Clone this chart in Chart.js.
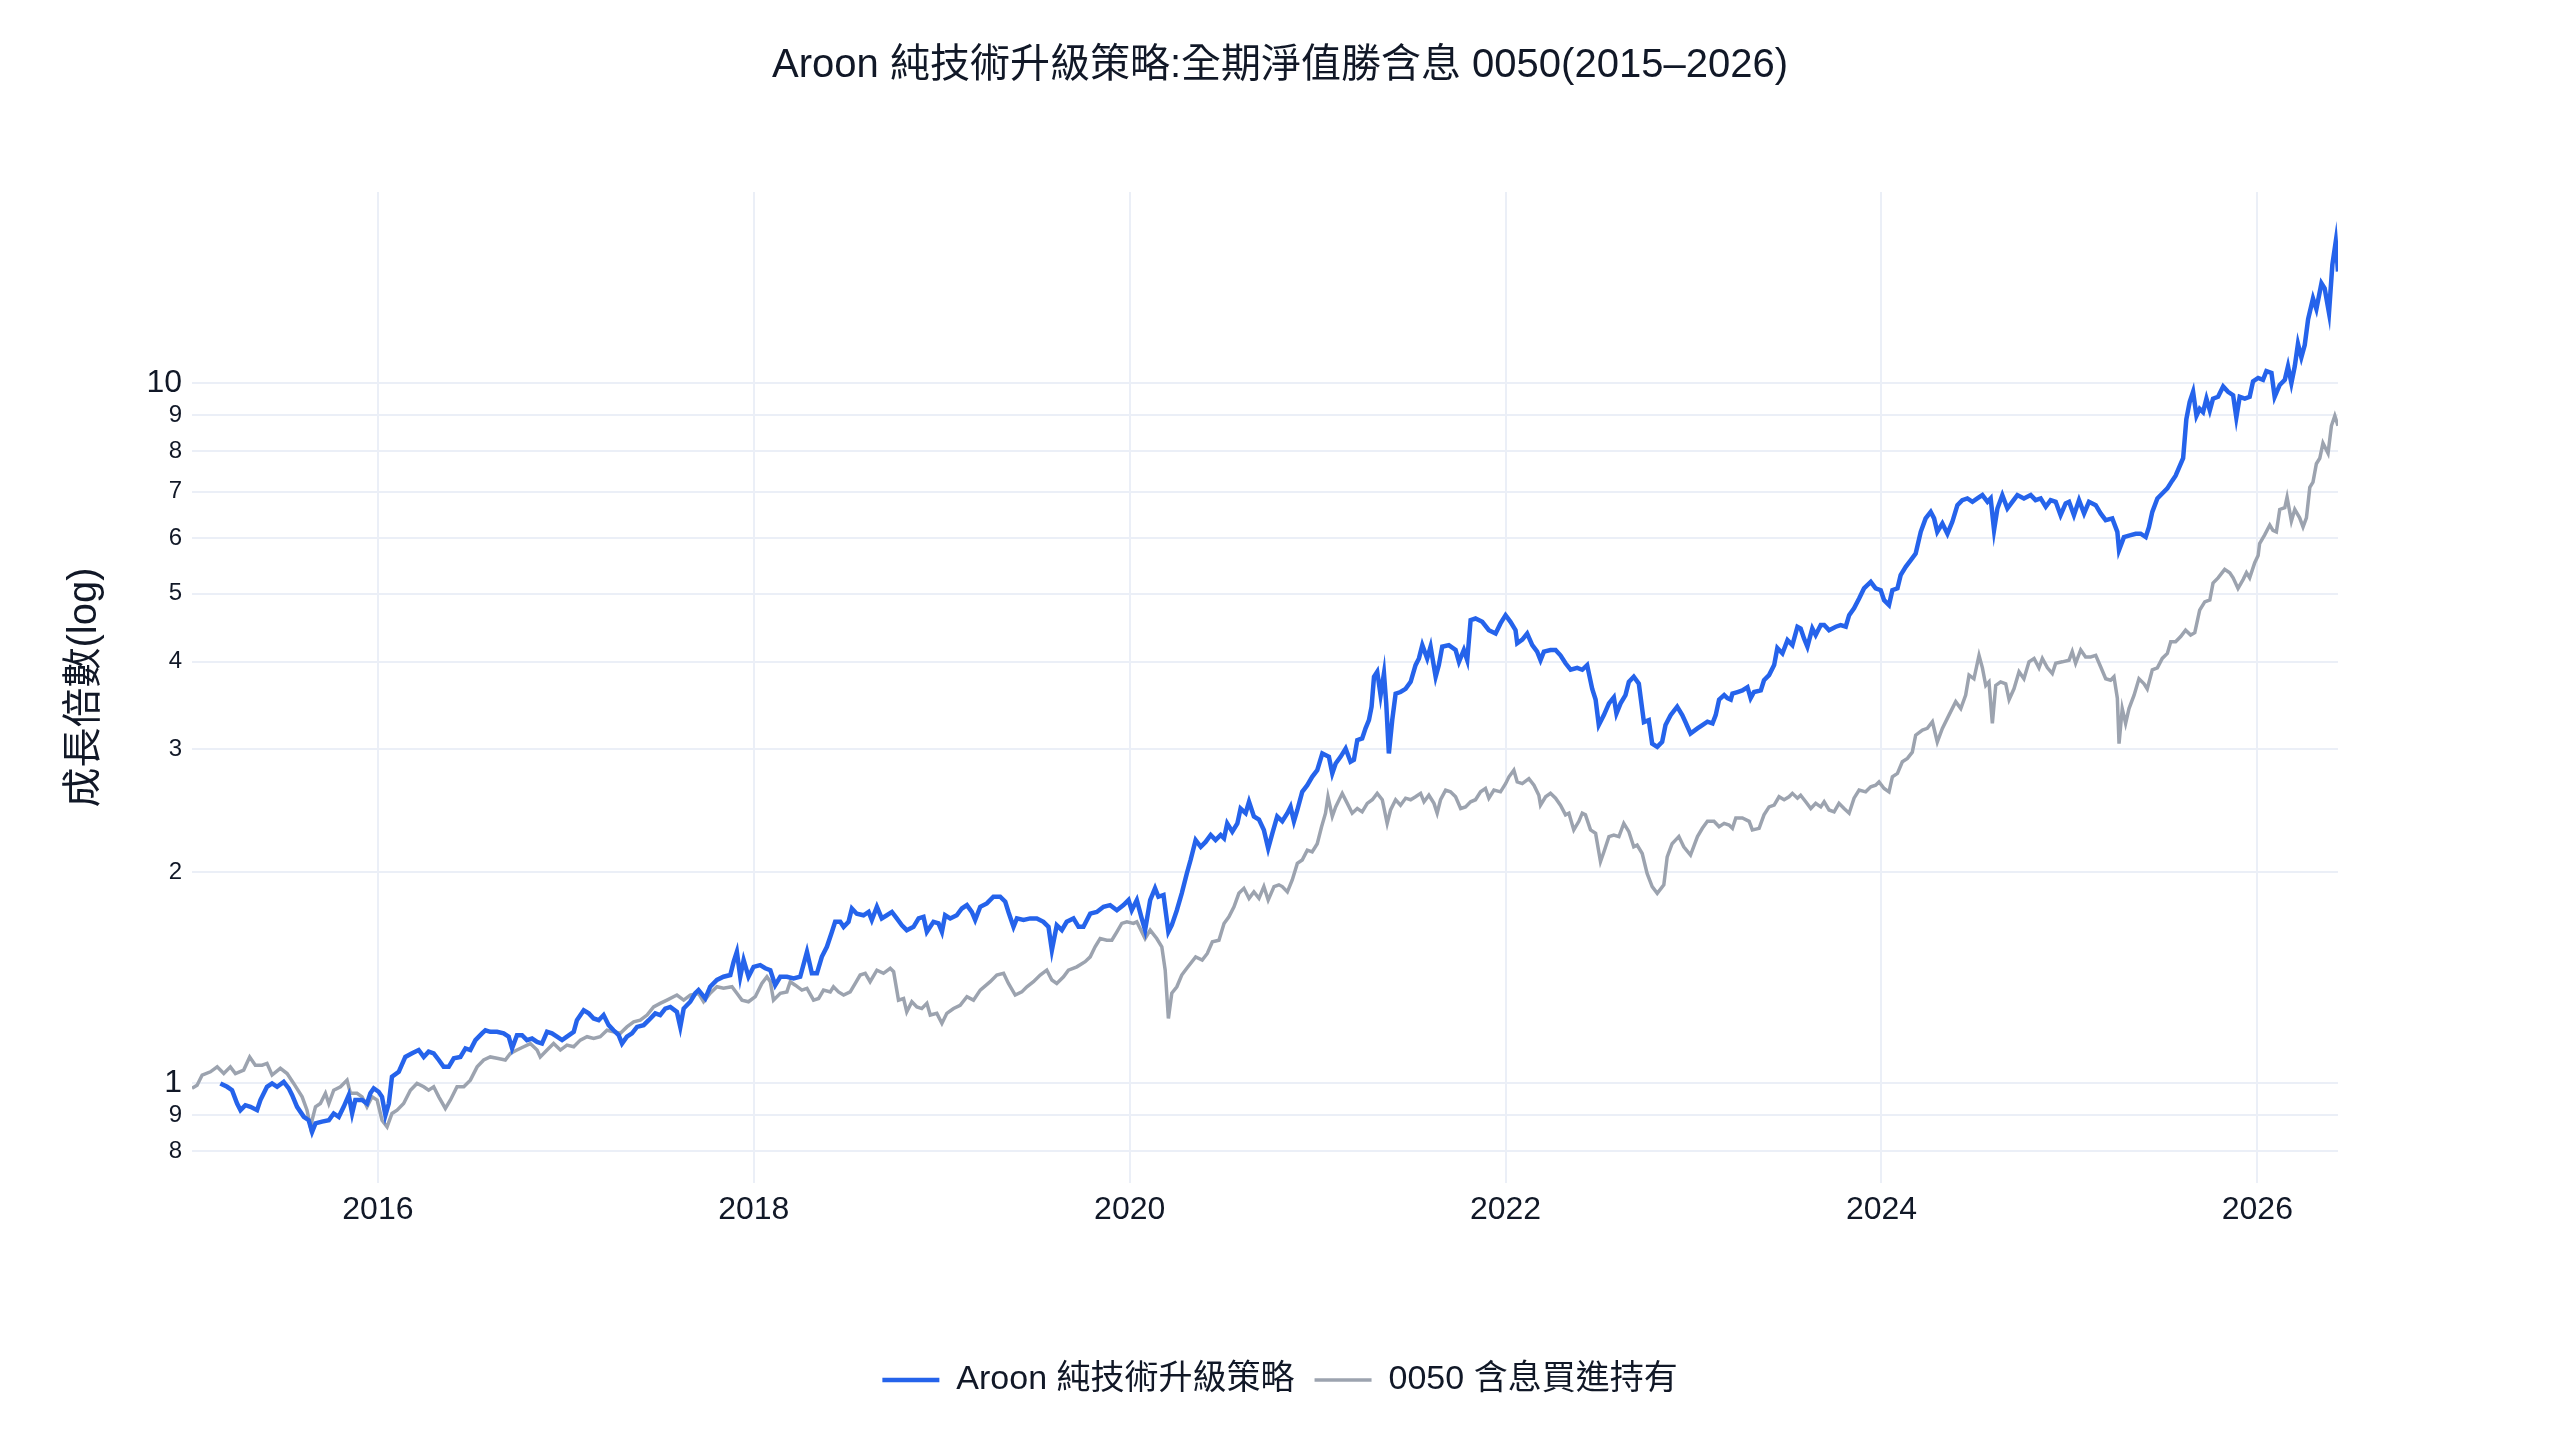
<!DOCTYPE html>
<html>
<head>
<meta charset="utf-8">
<script src="https://cdn.jsdelivr.net/npm/chart.js@4.4.1/dist/chart.umd.min.js"></script>
<style>
  html, body { margin: 0; padding: 0; background: #ffffff; }
  canvas { display: block; }
</style>
</head>
<body>
<canvas id="chart" width="2560" height="1440"></canvas>
<script>
// values (decimal year, growth multiple)
const aroonYears = [
  2015.162,2015.198,2015.224,2015.251,2015.269,2015.295,2015.322,2015.357,2015.375,2015.410,
  2015.437,2015.464,2015.499,2015.526,2015.544,2015.570,2015.606,2015.632,2015.650,2015.668,
  2015.703,2015.739,2015.765,2015.792,2015.818,2015.845,2015.863,2015.880,2015.916,2015.942,
  2015.960,2015.978,2016.004,2016.022,2016.040,2016.058,2016.075,2016.111,2016.146,2016.182,
  2016.217,2016.244,2016.270,2016.297,2016.324,2016.350,2016.377,2016.404,2016.439,2016.466,
  2016.492,2016.519,2016.554,2016.572,2016.598,2016.634,2016.669,2016.696,2016.714,2016.740,
  2016.767,2016.793,2016.820,2016.847,2016.873,2016.900,2016.926,2016.953,2016.980,2017.006,
  2017.042,2017.059,2017.095,2017.122,2017.148,2017.175,2017.201,2017.228,2017.254,2017.281,
  2017.299,2017.325,2017.352,2017.379,2017.414,2017.441,2017.476,2017.502,2017.529,2017.556,
  2017.591,2017.609,2017.627,2017.662,2017.689,2017.706,
  2017.742,2017.768,2017.804,2017.839,2017.875,2017.893,2017.910,2017.928,2017.946,2017.972,
  2017.999,2018.034,2018.061,2018.088,2018.114,2018.141,2018.176,2018.212,2018.247,2018.283,
  2018.309,2018.336,2018.362,2018.389,2018.416,2018.433,2018.460,2018.478,2018.504,2018.522,
  2018.548,2018.584,2018.611,2018.628,2018.655,2018.681,2018.708,2018.735,2018.761,2018.788,
  2018.814,2018.850,2018.877,2018.903,2018.921,2018.956,2018.983,2019.001,2019.018,2019.045,
  2019.080,2019.107,2019.134,2019.160,2019.178,2019.205,2019.240,2019.275,2019.311,2019.338,
  2019.355,2019.382,2019.400,2019.435,2019.471,2019.506,2019.541,2019.568,2019.586,2019.612,
  2019.639,2019.665,2019.701,2019.728,2019.754,2019.790,2019.825,2019.861,2019.896,2019.932,
  2019.967,2019.994,2020.011,2020.038,2020.064,2020.082,2020.109,2020.135,2020.153,2020.180,
  2020.206,2020.224,2020.251,2020.277,2020.304,
  2020.324,2020.351,2020.378,2020.404,2020.431,2020.457,2020.484,2020.502,2020.519,2020.546,
  2020.573,2020.590,2020.617,2020.635,2020.661,2020.688,2020.714,2020.737,2020.759,2020.785,
  2020.812,2020.839,2020.856,2020.874,2020.892,2020.918,2020.945,2020.971,2020.998,2021.025,
  2021.060,2021.078,2021.096,2021.122,2021.149,2021.175,2021.193,2021.211,2021.237,2021.255,
  2021.273,2021.287,2021.300,2021.317,2021.335,2021.353,2021.365,2021.379,2021.397,2021.415,
  2021.441,2021.468,2021.495,2021.521,2021.539,2021.557,2021.583,2021.601,2021.628,2021.645,
  2021.663,2021.698,2021.734,2021.752,2021.778,2021.796,2021.814,2021.840,2021.876,2021.911,
  2021.947,2021.973,2022.000,2022.026,2022.053,2022.062,2022.089,2022.115,2022.142,2022.168,
  2022.186,2022.204,2022.239,2022.266,2022.292,2022.319,2022.346,2022.381,2022.408,2022.434,
  2022.461,2022.479,2022.496,2022.523,2022.550,2022.576,2022.590,2022.612,2022.638,2022.656,
  2022.682,2022.709,2022.736,2022.762,2022.780,2022.807,2022.833,2022.851,2022.878,2022.913,
  2022.940,2022.957,2022.984,
  2023.021,2023.047,2023.074,2023.101,2023.118,2023.136,2023.163,2023.180,2023.198,2023.207,
  2023.234,2023.260,2023.287,2023.304,2023.322,2023.358,2023.375,2023.402,2023.429,2023.446,
  2023.473,2023.500,2023.526,2023.553,2023.570,2023.588,2023.606,2023.632,2023.650,2023.677,
  2023.695,2023.721,2023.757,2023.783,2023.810,2023.828,2023.854,2023.881,2023.907,2023.943,
  2023.969,2023.996,2024.014,2024.040,2024.058,2024.085,2024.102,2024.129,2024.156,2024.182,
  2024.209,2024.235,2024.262,2024.280,2024.297,2024.324,2024.351,2024.377,2024.404,2024.430,
  2024.457,2024.484,2024.510,2024.537,2024.564,2024.581,2024.599,2024.617,2024.643,2024.670,
  2024.696,2024.723,2024.758,2024.794,2024.820,2024.847,2024.874,2024.900,2024.927,2024.953,
  2024.980,2024.998,2025.024,2025.051,2025.078,2025.104,2025.140,2025.166,2025.193,2025.228,
  2025.255,2025.264,2025.290,2025.326,2025.353,2025.379,2025.406,2025.423,2025.441,2025.468,
  2025.494,2025.521,2025.547,2025.565,
  2025.605,2025.622,2025.640,2025.658,2025.676,2025.693,2025.711,2025.729,2025.747,2025.764,
  2025.791,2025.818,2025.844,2025.871,2025.888,2025.906,2025.933,2025.959,2025.977,2026.004,
  2026.030,2026.048,2026.075,2026.092,2026.119,2026.146,2026.163,2026.181,2026.199,2026.216,
  2026.234,2026.252,2026.270,2026.296,2026.314,2026.341,2026.358,2026.381,2026.399,2026.417,
  2026.429
];
const aroonValues = [
  0.999,0.988,0.977,0.935,0.915,0.930,0.925,0.915,0.946,0.988,
  0.999,0.988,1.004,0.983,0.961,0.925,0.895,0.885,0.852,0.876,
  0.881,0.885,0.905,0.895,0.925,0.961,0.905,0.946,0.946,0.935,
  0.967,0.983,0.972,0.956,0.900,0.935,1.021,1.038,1.090,1.103,
  1.115,1.090,1.109,1.103,1.079,1.055,1.055,1.085,1.090,1.121,
  1.115,1.152,1.178,1.190,1.184,1.184,1.178,1.165,1.121,1.171,
  1.171,1.152,1.158,1.145,1.139,1.184,1.178,1.165,1.152,1.165,
  1.184,1.230,1.271,1.258,1.237,1.230,1.251,1.210,1.190,1.171,
  1.139,1.165,1.178,1.203,1.210,1.230,1.258,1.251,1.278,1.285,
  1.264,1.203,1.278,1.307,1.344,1.358,
  1.321,1.373,1.404,1.419,1.427,1.491,1.540,1.419,1.499,1.419,
  1.466,1.474,1.459,1.450,1.380,1.419,1.419,1.411,1.419,1.540,
  1.435,1.435,1.515,1.566,1.645,1.700,1.700,1.672,1.700,1.776,
  1.746,1.737,1.756,1.710,1.786,1.719,1.737,1.756,1.719,1.681,
  1.654,1.672,1.719,1.728,1.645,1.700,1.691,1.645,1.737,1.719,
  1.737,1.776,1.796,1.756,1.710,1.786,1.806,1.846,1.846,1.816,
  1.756,1.672,1.719,1.710,1.719,1.719,1.700,1.672,1.549,1.681,
  1.654,1.700,1.719,1.672,1.672,1.746,1.756,1.786,1.796,1.766,
  1.796,1.826,1.766,1.826,1.719,1.654,1.826,1.898,1.846,1.857,
  1.645,1.681,1.766,1.867,1.993,
  2.083,2.224,2.176,2.211,2.262,2.224,2.262,2.237,2.350,2.287,
  2.350,2.468,2.430,2.523,2.404,2.379,2.300,2.164,2.274,2.404,
  2.366,2.430,2.481,2.366,2.456,2.607,2.664,2.739,2.799,2.958,
  2.925,2.770,2.862,2.925,3.006,2.878,2.896,3.090,3.108,3.212,
  3.301,3.450,3.806,3.869,3.583,3.848,3.488,2.958,3.301,3.601,
  3.620,3.658,3.743,3.955,4.043,4.224,4.043,4.202,3.806,3.955,
  4.202,4.224,4.157,3.998,4.157,4.020,4.585,4.610,4.560,4.437,
  4.388,4.536,4.661,4.560,4.437,4.249,4.300,4.388,4.224,4.134,
  4.020,4.134,4.157,4.157,4.084,3.979,3.895,3.920,3.895,3.955,
  3.658,3.531,3.247,3.355,3.488,3.558,3.374,3.488,3.583,3.743,
  3.806,3.720,3.280,3.301,3.055,3.022,3.072,3.247,3.355,3.450,
  3.355,3.280,3.158,
  3.212,3.247,3.283,3.265,3.355,3.531,3.583,3.548,3.531,3.601,
  3.620,3.639,3.678,3.548,3.620,3.639,3.763,3.827,3.955,4.183,
  4.110,4.294,4.224,4.487,4.462,4.318,4.202,4.462,4.366,4.512,
  4.512,4.437,4.487,4.512,4.487,4.661,4.769,4.925,5.090,5.201,
  5.090,5.060,4.897,4.818,5.060,5.090,5.317,5.464,5.585,5.710,
  6.131,6.408,6.548,6.408,6.131,6.303,6.093,6.336,6.693,6.805,
  6.843,6.767,6.843,6.919,6.767,6.843,6.168,6.621,6.919,6.621,
  6.767,6.919,6.843,6.919,6.805,6.843,6.658,6.805,6.767,6.476,
  6.731,6.767,6.476,6.805,6.514,6.767,6.693,6.514,6.372,6.408,
  6.131,5.773,6.026,6.064,6.093,6.093,6.026,6.226,6.548,6.843,
  6.955,7.072,7.255,7.375,
  7.81,8.88,9.40,9.72,8.98,9.19,9.09,9.50,9.14,9.50,
  9.56,9.89,9.72,9.61,8.93,9.56,9.50,9.56,10.06,10.17,
  10.11,10.40,10.34,9.56,9.94,10.11,10.57,10.00,10.57,11.38,
  10.88,11.33,12.34,13.21,12.76,13.89,13.66,12.60,14.76,15.93,
  14.43
];

const holdYears = [
  2015.011,2015.038,2015.065,2015.109,2015.145,2015.180,2015.215,2015.242,2015.286,2015.318,
  2015.348,2015.384,2015.410,2015.437,2015.481,2015.517,2015.552,2015.597,2015.623,2015.641,
  2015.668,2015.694,2015.721,2015.739,2015.765,2015.801,2015.836,2015.854,2015.889,2015.916,
  2015.942,2015.969,2015.996,2016.022,2016.049,2016.075,2016.102,2016.137,2016.173,2016.208,
  2016.244,2016.270,2016.297,2016.324,2016.359,2016.386,2016.421,2016.457,2016.492,2016.528,
  2016.563,2016.598,2016.634,2016.678,2016.705,2016.740,2016.776,2016.811,2016.847,2016.864,
  2016.900,2016.935,2016.971,2017.006,2017.042,2017.077,2017.113,2017.148,2017.183,2017.219,
  2017.254,2017.290,2017.325,2017.361,2017.396,2017.432,2017.467,2017.502,2017.538,2017.591,
  2017.627,2017.662,2017.706,
  2017.733,2017.768,2017.804,2017.839,2017.884,2017.910,2017.937,2017.972,2018.008,2018.043,
  2018.070,2018.088,2018.105,2018.141,2018.176,2018.194,2018.221,2018.256,2018.283,2018.318,
  2018.345,2018.371,2018.407,2018.424,2018.451,2018.478,2018.513,2018.540,2018.566,2018.593,
  2018.619,2018.655,2018.690,2018.726,2018.744,2018.770,2018.797,2018.814,2018.841,2018.868,
  2018.894,2018.921,2018.939,2018.974,2019.001,2019.027,2019.063,2019.098,2019.134,2019.169,
  2019.205,2019.258,2019.293,2019.329,2019.355,2019.391,2019.426,2019.453,2019.488,2019.524,
  2019.559,2019.586,2019.612,2019.648,2019.674,2019.719,2019.763,2019.790,2019.816,2019.843,
  2019.878,2019.905,2019.932,2019.958,2019.985,2020.020,2020.038,2020.064,2020.082,2020.109,
  2020.144,2020.171,2020.189,2020.206,2020.224,2020.251,2020.277,2020.304,
  2020.351,2020.386,2020.413,2020.440,2020.475,2020.502,2020.528,2020.555,2020.581,2020.608,
  2020.635,2020.661,2020.688,2020.714,2020.737,2020.768,2020.794,2020.812,2020.839,2020.865,
  2020.892,2020.918,2020.945,2020.971,2020.998,2021.021,2021.042,2021.055,2021.078,2021.096,
  2021.131,2021.158,2021.184,2021.211,2021.237,2021.264,2021.291,2021.317,2021.344,2021.370,
  2021.388,2021.415,2021.441,2021.468,2021.495,2021.521,2021.548,2021.566,2021.592,2021.619,
  2021.636,2021.654,2021.681,2021.707,2021.734,2021.761,2021.787,2021.814,2021.840,2021.867,
  2021.893,2021.911,2021.938,2021.973,2022.000,2022.018,2022.044,2022.062,2022.089,2022.124,
  2022.151,2022.177,2022.186,2022.213,2022.239,2022.266,2022.292,2022.319,2022.337,2022.363,
  2022.390,2022.408,2022.425,2022.452,2022.479,2022.505,2022.523,2022.550,2022.576,2022.603,
  2022.629,2022.656,2022.682,2022.700,2022.727,2022.753,2022.780,2022.807,2022.842,2022.860,
  2022.886,2022.904,2022.922,2022.948,2022.984,
  2023.021,2023.047,2023.074,2023.109,2023.136,2023.163,2023.189,2023.207,2023.225,2023.260,
  2023.296,2023.313,2023.349,2023.375,2023.402,2023.429,2023.455,2023.482,2023.508,2023.526,
  2023.553,2023.570,2023.597,2023.624,2023.650,2023.677,2023.695,2023.721,2023.748,2023.774,
  2023.801,2023.828,2023.854,2023.881,2023.916,2023.943,2023.969,2023.987,2024.014,2024.040,
  2024.058,2024.085,2024.111,2024.138,2024.164,2024.182,2024.218,2024.244,2024.271,2024.297,
  2024.324,2024.359,2024.395,2024.422,2024.448,2024.466,2024.492,2024.519,2024.537,2024.555,
  2024.572,2024.590,2024.608,2024.634,2024.661,2024.679,2024.705,2024.732,2024.758,2024.785,
  2024.812,2024.838,2024.856,2024.883,2024.909,2024.927,2024.962,2024.998,2025.015,2025.033,
  2025.060,2025.086,2025.113,2025.140,2025.166,2025.193,2025.219,2025.237,2025.255,2025.264,
  2025.281,2025.299,2025.317,2025.344,2025.370,2025.397,2025.414,2025.441,2025.468,2025.494,
  2025.521,2025.539,2025.565,2025.592,2025.618,2025.645,
  2025.667,2025.693,2025.720,2025.747,2025.764,2025.791,2025.826,2025.853,2025.871,2025.897,
  2025.924,2025.942,2025.959,2025.986,2026.004,2026.012,2026.039,2026.066,2026.083,2026.101,
  2026.119,2026.146,2026.158,2026.181,2026.199,2026.225,2026.243,2026.261,2026.279,2026.296,
  2026.314,2026.332,2026.349,2026.376,2026.394,2026.412,2026.429
];
const holdValues = [
  0.983,0.993,1.027,1.038,1.055,1.032,1.055,1.032,1.044,1.090,
  1.061,1.061,1.067,1.027,1.050,1.032,0.999,0.956,0.915,0.866,
  0.925,0.935,0.967,0.935,0.977,0.988,1.010,0.967,0.967,0.956,
  0.925,0.956,0.946,0.885,0.866,0.905,0.915,0.935,0.977,0.999,
  0.988,0.977,0.988,0.956,0.920,0.946,0.988,0.988,1.010,1.055,
  1.079,1.090,1.085,1.079,1.103,1.115,1.127,1.139,1.115,1.090,
  1.115,1.139,1.115,1.133,1.127,1.152,1.165,1.158,1.165,1.190,
  1.184,1.178,1.203,1.223,1.230,1.251,1.285,1.300,1.314,1.336,
  1.314,1.336,1.344,
  1.307,1.344,1.373,1.366,1.373,1.344,1.314,1.307,1.329,1.388,
  1.419,1.396,1.314,1.344,1.350,1.396,1.380,1.358,1.366,1.314,
  1.321,1.358,1.350,1.373,1.350,1.336,1.350,1.388,1.427,1.435,
  1.396,1.450,1.435,1.459,1.443,1.314,1.321,1.264,1.307,1.285,
  1.278,1.300,1.251,1.258,1.217,1.258,1.278,1.292,1.329,1.314,
  1.358,1.396,1.427,1.435,1.388,1.336,1.350,1.373,1.396,1.427,
  1.450,1.404,1.388,1.419,1.450,1.466,1.491,1.515,1.566,1.609,
  1.600,1.600,1.645,1.691,1.700,1.691,1.700,1.645,1.609,1.654,
  1.609,1.566,1.450,1.237,1.344,1.373,1.427,1.459,
  1.515,1.499,1.532,1.592,1.600,1.691,1.728,1.786,1.867,1.898,
  1.836,1.876,1.836,1.909,1.826,1.909,1.920,1.909,1.876,1.951,
  2.060,2.083,2.152,2.139,2.198,2.324,2.430,2.565,2.404,2.481,
  2.594,2.510,2.430,2.468,2.441,2.510,2.540,2.594,2.540,2.350,
  2.456,2.540,2.495,2.553,2.540,2.565,2.594,2.523,2.578,2.510,
  2.430,2.540,2.622,2.607,2.565,2.468,2.481,2.523,2.540,2.607,
  2.636,2.553,2.622,2.607,2.678,2.739,2.799,2.693,2.678,2.723,
  2.664,2.578,2.495,2.565,2.594,2.553,2.495,2.417,2.430,2.300,
  2.366,2.430,2.417,2.300,2.274,2.072,2.139,2.250,2.262,2.250,
  2.350,2.287,2.176,2.188,2.128,1.993,1.909,1.867,1.920,2.105,
  2.198,2.224,2.250,2.176,2.117,
  2.250,2.312,2.366,2.366,2.324,2.350,2.337,2.312,2.392,2.392,
  2.366,2.300,2.312,2.417,2.481,2.495,2.565,2.540,2.565,2.594,
  2.553,2.578,2.523,2.468,2.510,2.481,2.523,2.456,2.441,2.510,
  2.468,2.430,2.553,2.622,2.607,2.650,2.664,2.693,2.636,2.607,
  2.739,2.770,2.878,2.910,2.970,3.141,3.195,3.212,3.283,3.072,
  3.212,3.355,3.507,3.428,3.583,3.827,3.781,4.084,3.920,3.699,
  3.743,3.265,3.699,3.743,3.720,3.531,3.658,3.869,3.781,3.998,
  4.043,3.920,4.043,3.920,3.848,3.979,3.998,4.020,4.134,3.979,
  4.157,4.063,4.063,4.084,3.934,3.781,3.763,3.806,3.548,3.055,
  3.428,3.265,3.428,3.583,3.781,3.720,3.658,3.895,3.920,4.043,
  4.110,4.270,4.270,4.344,4.437,4.366,
  4.40,4.74,4.87,4.90,5.18,5.27,5.42,5.36,5.27,5.09,
  5.24,5.36,5.27,5.54,5.67,5.90,6.07,6.27,6.16,6.13,
  6.60,6.64,6.87,6.35,6.60,6.42,6.23,6.42,7.10,7.22,
  7.67,7.81,8.21,7.94,8.69,8.98,8.69
];

const xTickYears = [2016, 2018, 2020, 2022, 2024, 2026];
const yTickValues = [0.8, 0.9, 1, 2, 3, 4, 5, 6, 7, 8, 9, 10];
const yTickLabels = ['8', '9', '1', '2', '3', '4', '5', '6', '7', '8', '9', '10'];

const FONT = '"Liberation Sans", "Noto Sans CJK TC", sans-serif';
const TEXT = '#111827';
const GRID = '#EBEFF7';

function toPoints(xs, ys) {
  return xs.map((x, i) => ({ x: x, y: ys[i] }));
}

const ctx = document.getElementById('chart').getContext('2d');

new Chart(ctx, {
  type: 'line',
  data: {
    datasets: [
      {
        label: 'Aroon 純技術升級策略',
        data: toPoints(aroonYears, aroonValues),
        borderColor: '#2563eb',
        backgroundColor: '#2563eb',
        borderWidth: 4.5,
        pointRadius: 0,
        pointStyle: 'line',
        tension: 0
      },
      {
        label: '0050 含息買進持有',
        data: toPoints(holdYears, holdValues),
        borderColor: '#9ca3af',
        backgroundColor: '#9ca3af',
        borderWidth: 3.5,
        pointRadius: 0,
        pointStyle: 'line',
        tension: 0
      }
    ]
  },
  options: {
    responsive: false,
    devicePixelRatio: 1,
    animation: false,
    layout: { padding: { left: 0, right: 0, top: 0, bottom: 33 } },
    plugins: {
      title: {
        display: true,
        text: 'Aroon 純技術升級策略:全期淨值勝含息 0050(2015–2026)',
        color: TEXT,
        font: { family: FONT, size: 40, weight: 'normal' },
        padding: { top: 42, bottom: 102 }
      },
      legend: {
        position: 'bottom',
        labels: {
          usePointStyle: true,
          pointStyleWidth: 57,
          padding: 20,
          color: TEXT,
          font: { family: FONT, size: 34 }
        }
      },
      tooltip: { enabled: false }
    },
    scales: {
      x: {
        type: 'linear',
        bounds: 'data',
        min: 2015.011,
        max: 2026.429,
        afterBuildTicks: (scale) => {
          scale.ticks = xTickYears.map(v => ({ value: v }));
        },
        afterFit: (scale) => { scale.height = 160; },
        grid: { color: GRID, lineWidth: 2, drawTicks: false },
        border: { display: false },
        ticks: {
          autoSkip: false,
          maxRotation: 0,
          padding: 8,
          color: TEXT,
          font: { family: FONT, size: 32 },
          callback: (value) => String(value)
        }
      },
      y: {
        type: 'logarithmic',
        position: 'left',
        bounds: 'data',
        min: 0.72,
        max: 18.75,
        afterBuildTicks: (scale) => {
          scale.ticks = yTickValues.map(v => ({ value: v }));
        },
        afterFit: (scale) => { scale.width = 192; },
        grid: { color: GRID, lineWidth: 2, drawTicks: false },
        border: { display: false },
        title: {
          display: true,
          text: '成長倍數(log)',
          color: TEXT,
          font: { family: FONT, size: 40 },
          padding: { top: 61, bottom: 0 }
        },
        ticks: {
          autoSkip: false,
          padding: 10,
          color: TEXT,
          font: (c) => {
            const v = c.tick ? c.tick.value : 0;
            return { family: FONT, size: (v === 1 || v === 10) ? 32 : 24 };
          },
          callback: (value) => {
            const i = yTickValues.indexOf(value);
            return i >= 0 ? yTickLabels[i] : '';
          }
        }
      },
      yRight: {
        type: 'linear',
        position: 'right',
        afterFit: (scale) => { scale.width = 222; },
        grid: { display: false },
        border: { display: false },
        ticks: { display: false }
      }
    }
  }
});
</script>
</body>
</html>
